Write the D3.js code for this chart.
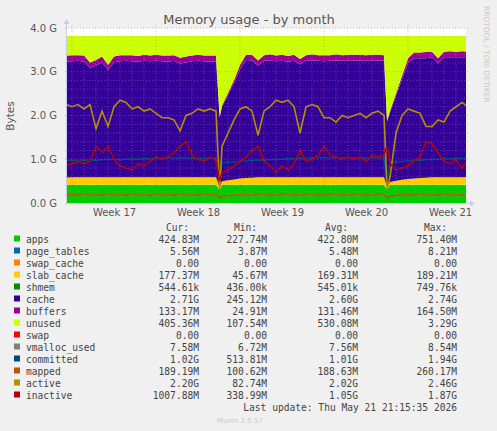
<!DOCTYPE html>
<html>
<head>
<meta charset="utf-8">
<script src="https://cdn.jsdelivr.net/npm/d3@7"></script>
<style>
  body { margin: 0; background: #f0f0f0; }
  text { font-family: "DejaVu Sans", sans-serif; }
  .mono { font-family: "DejaVu Sans Mono", monospace; font-size: 9.6px; fill: #444; }
</style>
</head>
<body>
<div id="chart"></div>
<script>
// days since start of week 17, values in GB
var days = [-0.5, 0, 0.5, 1, 1.5, 2, 2.5, 3, 3.5, 4, 4.5, 5, 5.5, 6, 6.5, 7, 7.5, 8, 8.5, 9, 9.5, 10, 10.5, 11, 11.5, 12,
    12.3, 12.5, 13, 13.5, 14, 14.5, 15, 15.5, 16, 16.5, 17, 17.5, 18, 18.5, 19, 19.5, 20, 20.5, 21, 21.5, 22, 22.5, 23, 23.5, 24, 24.5, 25, 25.5, 26,
    26.25, 26.5, 27, 27.5, 28, 28.5, 29, 29.5, 30, 30.5, 31, 31.5, 32, 32.5, 33];
var memTotal = 3.82;
var apps = [0.42, 0.42, 0.42, 0.42, 0.42, 0.42, 0.42, 0.42, 0.42, 0.42, 0.42, 0.42, 0.42, 0.42, 0.42, 0.42, 0.42, 0.42, 0.42, 0.42, 0.42, 0.42, 0.42, 0.42, 0.42, 0.42,
    0.30, 0.42, 0.42, 0.42, 0.42, 0.42, 0.42, 0.42, 0.42, 0.42, 0.42, 0.42, 0.42, 0.42, 0.42, 0.42, 0.42, 0.42, 0.42, 0.42, 0.42, 0.42, 0.42, 0.42, 0.42, 0.42, 0.42, 0.42, 0.42,
    0.30, 0.42, 0.42, 0.42, 0.42, 0.42, 0.42, 0.42, 0.42, 0.42, 0.42, 0.42, 0.42, 0.42, 0.42];
var slab = [0.16, 0.17, 0.17, 0.17, 0.17, 0.17, 0.17, 0.17, 0.17, 0.17, 0.17, 0.17, 0.17, 0.17, 0.17, 0.17, 0.17, 0.17, 0.17, 0.17, 0.17, 0.17, 0.17, 0.17, 0.17, 0.17,
    0.06, 0.08, 0.10, 0.12, 0.14, 0.15, 0.16, 0.17, 0.17, 0.17, 0.17, 0.17, 0.17, 0.17, 0.17, 0.17, 0.17, 0.17, 0.17, 0.17, 0.17, 0.17, 0.17, 0.17, 0.17, 0.17, 0.17, 0.17, 0.17,
    0.06, 0.06, 0.09, 0.11, 0.13, 0.14, 0.15, 0.16, 0.17, 0.17, 0.17, 0.17, 0.17, 0.17, 0.17];
var cache = [2.65, 2.65, 2.66, 2.64, 2.5, 2.55, 2.62, 2.45, 2.63, 2.65, 2.66, 2.65, 2.64, 2.66, 2.65, 2.66, 2.65, 2.64, 2.66, 2.6, 2.62, 2.65, 2.66, 2.65, 2.64, 2.65,
    1.6, 1.7, 1.95, 2.2, 2.5, 2.7, 2.68, 2.55, 2.66, 2.67, 2.65, 2.66, 2.64, 2.66, 2.58, 2.66, 2.67, 2.66, 2.65, 2.66, 2.67, 2.66, 2.66, 2.67, 2.66, 2.66, 2.66, 2.67, 2.66,
    1.5, 1.6, 1.95, 2.3, 2.65, 2.75, 2.74, 2.73, 2.74, 2.6, 2.74, 2.74, 2.74, 2.74, 2.74];
var buffers = [0.14, 0.14, 0.13, 0.14, 0.12, 0.13, 0.14, 0.12, 0.13, 0.14, 0.13, 0.14, 0.13, 0.14, 0.13, 0.14, 0.13, 0.14, 0.13, 0.13, 0.14, 0.13, 0.14, 0.13, 0.14, 0.13,
    0.02, 0.03, 0.05, 0.07, 0.1, 0.12, 0.13, 0.12, 0.13, 0.14, 0.13, 0.14, 0.13, 0.14, 0.12, 0.13, 0.14, 0.13, 0.14, 0.13, 0.14, 0.13, 0.14, 0.13, 0.14, 0.13, 0.14, 0.13, 0.13,
    0.02, 0.03, 0.05, 0.08, 0.11, 0.13, 0.13, 0.14, 0.13, 0.12, 0.13, 0.14, 0.13, 0.14, 0.13];
var committed = [0.97, 0.98, 0.97, 0.98, 0.97, 0.98, 0.99, 1.0, 1.0, 0.99, 1.0, 1.01, 1.0, 1.02, 1.01, 1.03, 1.02, 1.04, 1.03, 1.03, 1.04, 1.02, 1.03, 1.02, 1.03, 1.02,
    0.5, 0.92, 0.93, 0.94, 0.95, 0.96, 0.97, 0.98, 0.98, 0.99, 1.0, 1.0, 1.01, 1.01, 1.02, 1.02, 1.03, 1.03, 1.04, 1.03, 1.04, 1.03, 1.04, 1.03, 1.04, 1.03, 1.04, 1.03, 1.04,
    0.5, 0.93, 0.94, 0.95, 0.96, 0.97, 0.98, 0.99, 1.0, 1.0, 1.01, 1.01, 1.02, 1.02, 1.02];
var mapped = [0.18, 0.2, 0.18, 0.21, 0.19, 0.2, 0.18, 0.21, 0.19, 0.2, 0.18, 0.21, 0.19, 0.2, 0.18, 0.21, 0.19, 0.2, 0.18, 0.21, 0.19, 0.2, 0.18, 0.21, 0.19, 0.2,
    0.12, 0.15, 0.17, 0.18, 0.19, 0.2, 0.18, 0.21, 0.19, 0.2, 0.18, 0.21, 0.19, 0.2, 0.18, 0.21, 0.19, 0.2, 0.18, 0.21, 0.19, 0.2, 0.18, 0.21, 0.19, 0.2, 0.18, 0.21, 0.19,
    0.12, 0.16, 0.18, 0.19, 0.2, 0.18, 0.21, 0.19, 0.2, 0.18, 0.21, 0.19, 0.2, 0.18, 0.19];
var active = [2.25, 2.2, 2.25, 2.15, 2.25, 1.7, 2.1, 1.75, 2.2, 2.35, 2.3, 2.15, 2.2, 2.1, 2.15, 2.05, 1.95, 1.95, 1.9, 1.65, 2.0, 2.05, 2.15, 2.1, 2.15, 2.1,
    0.3, 1.3, 1.6, 1.9, 2.15, 2.2, 2.1, 1.55, 2.1, 2.2, 2.35, 2.3, 2.35, 2.2, 1.6, 2.2, 2.25, 2.2, 1.95, 1.95, 1.85, 2.0, 1.95, 2.0, 2.05, 1.95, 2.05, 2.1, 2.0,
    0.3, 0.6, 1.6, 2.0, 2.15, 2.1, 2.05, 1.75, 1.75, 1.9, 1.85, 2.1, 2.2, 2.3, 2.2];
var inactive = [0.85, 0.9, 0.95, 0.9, 0.95, 1.3, 1.15, 1.3, 1.0, 0.85, 0.8, 0.75, 0.9, 0.85, 0.95, 1.05, 1.0, 1.05, 1.15, 1.3, 1.4, 1.1, 1.0, 0.95, 1.05, 1.0,
    0.5, 0.7, 0.75, 0.85, 0.95, 1.05, 1.2, 1.3, 0.95, 0.85, 0.7, 0.85, 0.75, 0.9, 1.2, 0.95, 1.0, 1.1, 1.3, 1.1, 1.05, 1.0, 1.05, 1.0, 1.05, 0.95, 1.1, 1.05, 1.1,
    1.3, 0.9, 0.75, 0.8, 0.85, 0.95, 1.05, 1.4, 1.35, 1.15, 0.95, 0.9, 1.0, 0.8, 1.0];

var weekLabels = ['Week 17', 'Week 18', 'Week 19', 'Week 20', 'Week 21'];
var yTicks = [0, 1, 2, 3, 4];

var legendNames = ['apps', 'page_tables', 'swap_cache', 'slab_cache', 'shmem', 'cache', 'buffers', 'unused',
    'swap', 'vmalloc_used', 'committed', 'mapped', 'active', 'inactive'];
var legendColors = ['#00cc00', '#0066b3', '#ff8000', '#ffcc00', '#008f00', '#330099', '#990099', '#ccff00',
    '#ff0000', '#808080', '#00487d', '#b35a00', '#b38f00', '#b30000'];
var curVals = ['424.83M', '5.56M', '0.00', '177.37M', '544.61k', '2.71G', '133.17M', '405.36M', '0.00', '7.58M', '1.02G', '189.19M', '2.20G', '1007.88M'];
var minVals = ['227.74M', '3.87M', '0.00', '45.67M', '436.00k', '245.12M', '24.91M', '107.54M', '0.00', '6.72M', '513.81M', '100.62M', '82.74M', '338.99M'];
var avgVals = ['422.80M', '5.48M', '0.00', '169.31M', '545.01k', '2.60G', '131.46M', '530.08M', '0.00', '7.56M', '1.01G', '188.63M', '2.02G', '1.05G'];
var maxVals = ['751.40M', '8.21M', '0.00', '189.21M', '749.76k', '2.74G', '164.50M', '3.29G', '0.00', '8.54M', '1.94G', '260.17M', '2.46G', '1.87G'];

var W = 497, H = 431;
var plot = { x0: 67, x1: 466, y0: 203, y1: 28 };

var svg = d3.select('#chart').append('svg').attr('width', W).attr('height', H);
svg.append('rect').attr('width', W).attr('height', H).attr('fill', '#f0f0f0');

var x = d3.scaleLinear().domain([-0.42, 32.83]).range([plot.x0, plot.x1]);
var y = d3.scaleLinear().domain([0, 4]).range([plot.y0, plot.y1]);

svg.append('rect').attr('x', plot.x0).attr('y', plot.y1)
    .attr('width', plot.x1 - plot.x0).attr('height', plot.y0 - plot.y1).attr('fill', '#fff');

// stacked areas
var rows = days.map(function(d, i) {
    var unused = memTotal - apps[i] - slab[i] - cache[i] - buffers[i];
    return { d: d, apps: apps[i], slab: slab[i], cache: cache[i], buffers: buffers[i], unused: unused };
});
var keys = ['apps', 'slab', 'cache', 'buffers', 'unused'];
var keyColors = { apps: '#00cc00', slab: '#ffcc00', cache: '#330099', buffers: '#990099', unused: '#ccff00' };
var stack = d3.stack().keys(keys)(rows);
var area = d3.area()
    .x(function(p) { return x(p.data.d); })
    .y0(function(p) { return y(p[0]); })
    .y1(function(p) { return y(p[1]); });
var clip = svg.append('clipPath').attr('id', 'clip').append('rect')
    .attr('x', plot.x0).attr('y', plot.y1).attr('width', plot.x1 - plot.x0).attr('height', plot.y0 - plot.y1);
var g = svg.append('g').attr('clip-path', 'url(#clip)');
stack.forEach(function(s) {
    g.append('path').attr('d', area(s)).attr('fill', keyColors[s.key]);
});

// lines
function drawLine(vals, color) {
    var line = d3.line()
        .x(function(d, i) { return x(days[i]); })
        .y(function(d) { return y(d); });
    g.append('path').attr('d', line(vals)).attr('fill', 'none')
        .attr('stroke', color).attr('stroke-width', 1.6);
}
drawLine(committed, '#00487d');
drawLine(mapped, '#b35a00');
drawLine(active, '#b38f00');
drawLine(inactive, '#b30000');

// grid
var grid = svg.append('g').attr('stroke-dasharray', '1,2').attr('stroke-width', 0.6);
for (var dd = 0; dd <= 32; dd++) {
    var major = dd % 7 === 0;
    grid.append('line').attr('x1', x(dd)).attr('x2', x(dd)).attr('y1', plot.y0).attr('y2', plot.y1 - (major ? 4 : 0))
        .attr('stroke', major ? '#e06060' : '#b0b0c0').attr('opacity', major ? 0.8 : 0.6);
}
for (var k = 1; k <= 20; k++) {
    var v = k * 0.2, maj = k % 5 === 0;
    grid.append('line').attr('x1', plot.x0 - 2).attr('x2', plot.x1 + 2).attr('y1', y(v)).attr('y2', y(v))
        .attr('stroke', maj ? '#e06060' : '#b0b0c0').attr('opacity', maj ? 0.8 : 0.6);
}

// axes
svg.append('line').attr('x1', plot.x0 - 2).attr('x2', plot.x1 + 6).attr('y1', plot.y0 + 0.5).attr('y2', plot.y0 + 0.5).attr('stroke', '#c8d0e8');
svg.append('line').attr('x1', plot.x0 - 0.5).attr('x2', plot.x0 - 0.5).attr('y1', plot.y0 + 2).attr('y2', plot.y1 - 6).attr('stroke', '#c8d0e8');
svg.append('path').attr('d', 'M' + (plot.x1 + 9) + ',' + (plot.y0 + 0.5) + 'l-5,-3v6z').attr('fill', '#c8d0e8');
svg.append('path').attr('d', 'M' + (plot.x0 - 0.5) + ',' + (plot.y1 - 9) + 'l-3,5h6z').attr('fill', '#c8d0e8');

var yAxis = d3.axisLeft(y).tickValues(yTicks).tickSize(0).tickPadding(10)
    .tickFormat(function(d) { return d.toFixed(1) + ' G'; });
var ya = svg.append('g').attr('transform', 'translate(' + plot.x0 + ',0)').call(yAxis);
ya.select('.domain').remove();
ya.selectAll('text').attr('font-size', 10).attr('fill', '#555').attr('font-family', 'DejaVu Sans');

var xAxis = d3.axisBottom(x).tickValues([3.5, 10.5, 17.5, 24.5, 31.5]).tickSize(0).tickPadding(6)
    .tickFormat(function(d, i) { return weekLabels[i]; });
var xa = svg.append('g').attr('transform', 'translate(0,' + plot.y0 + ')').call(xAxis);
xa.select('.domain').remove();
xa.selectAll('text').attr('font-size', 10).attr('fill', '#555').attr('font-family', 'DejaVu Sans');

// titles
svg.append('text').attr('x', 249).attr('y', 24).attr('text-anchor', 'middle')
    .attr('font-size', 13).attr('fill', '#555').text('Memory usage - by month');
svg.append('text').attr('transform', 'translate(14,116) rotate(-90)').attr('text-anchor', 'middle')
    .attr('font-size', 10.5).attr('fill', '#555').text('Bytes');
svg.append('text').attr('transform', 'translate(484,6) rotate(90)')
    .attr('font-size', 7.5).attr('fill', '#c8c8c8').text('RRDTOOL / TOBI OETIKER');

// legend
var cols = [199, 267, 358, 457];
['Cur:', 'Min:', 'Avg:', 'Max:'].forEach(function(h, i) {
    svg.append('text').attr('class', 'mono').attr('x', cols[i] - 10).attr('y', 231).attr('text-anchor', 'end').text(h);
});
legendNames.forEach(function(n, i) {
    var yy = 243 + i * 12;
    svg.append('rect').attr('x', 14).attr('y', yy - 7.5).attr('width', 6).attr('height', 6).attr('fill', legendColors[i]);
    svg.append('text').attr('class', 'mono').attr('x', 26).attr('y', yy).text(n);
    [curVals, minVals, avgVals, maxVals].forEach(function(arr, j) {
        svg.append('text').attr('class', 'mono').attr('x', cols[j]).attr('y', yy).attr('text-anchor', 'end').text(arr[i]);
    });
});
svg.append('text').attr('class', 'mono').attr('x', 457).attr('y', 411).attr('text-anchor', 'end')
    .text('Last update: Thu May 21 21:15:35 2026');
svg.append('text').attr('x', 240).attr('y', 423).attr('text-anchor', 'middle')
    .attr('font-size', 7).attr('fill', '#c8c8c8').text('Munin 2.0.57');
</script>
</body>
</html>
